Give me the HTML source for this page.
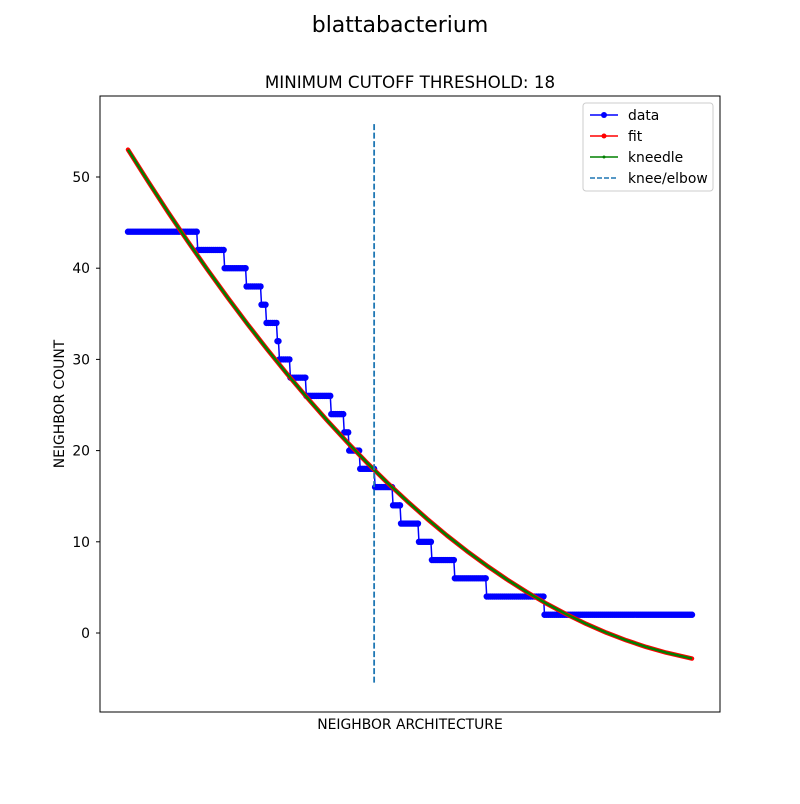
<!DOCTYPE html>
<html><head><meta charset="utf-8"><style>
body{margin:0;background:#fff;font-family:"DejaVu Sans",sans-serif}
</style></head><body>
<svg id="chart" width="800" height="800" viewBox="0 0 800 800" xmlns="http://www.w3.org/2000/svg" font-family="DejaVu Sans, sans-serif">
<rect width="800" height="800" fill="#fff"/>
<text x="400" y="32" text-anchor="middle" font-size="22">blattabacterium</text>
<text x="410" y="88" text-anchor="middle" font-size="16.7">MINIMUM CUTOFF THRESHOLD: 18</text>
<g id="plot"></g>
<rect x="100" y="96" width="620" height="616" fill="none" stroke="#000" stroke-width="1"/>
<text x="410" y="729" text-anchor="middle" font-size="13.9">NEIGHBOR ARCHITECTURE</text>
<text transform="translate(64,404) rotate(-90)" text-anchor="middle" font-size="13.9">NEIGHBOR COUNT</text>
<g id="yticks"></g>
<g>
<rect x="583" y="103" width="130" height="88" rx="3" fill="#fff" stroke="#ccc"/>
<g><line x1="590" y1="115" x2="618" y2="115" stroke="#00f" stroke-width="1.5"/><circle cx="604" cy="115" r="3" fill="#00f"/><text x="628" y="120" font-size="13.9">data</text></g>
<g><line x1="590" y1="136" x2="618" y2="136" stroke="#f00" stroke-width="1.5"/><circle cx="604" cy="136" r="2.5" fill="#f00"/><text x="628" y="141" font-size="13.9">fit</text></g>
<g><line x1="590" y1="157" x2="618" y2="157" stroke="#008000" stroke-width="1.5"/><circle cx="604" cy="157" r="1.5" fill="#008000"/><text x="628" y="162" font-size="13.9">kneedle</text></g>
<g><line x1="590" y1="178" x2="618" y2="178" stroke="#1f77b4" stroke-width="1.5" stroke-dasharray="5,2"/><text x="628" y="183" font-size="13.9">knee/elbow</text></g>
</g>
</svg>
<script>
const levels=[44,42,40,38,36,34,32,30,28,26,24,22,20,18,16,14,12,10,8,6,4,2];
const stepEnds=[69,96,118,133,138,149,151,162,178,203,216,221,232,247,265,273,291,304,327,359,417,566];
const fitX=[0,20,40,60,80,100,120,140,160,180,200,220,240,260,280,300,320,340,360,380,400,420,440,460,480,500,520,540,566];
const fitY=[53,49.54,46.18,42.94,39.80,36.78,33.86,31.06,28.36,25.77,23.29,20.92,18.65,16.50,14.47,12.53,10.70,8.99,7.39,5.89,4.50,3.22,2.06,0.99,0.04,-0.80,-1.53,-2.15,-2.80];
const kneeX=247;
const yTicks=[0,10,20,30,40,50];
const xMax=566;
const sx=v=>128+v*(564/xMax);
const sy=v=>633-v*9.12;
const NS="http://www.w3.org/2000/svg";
const plot=document.getElementById('plot');
function mk(t,a){const e=document.createElementNS(NS,t);for(const k in a)e.setAttribute(k,a[k]);return e;}
const yt=document.getElementById('yticks');
yTicks.forEach(v=>{
 const g=mk('g',{});
 
 
 g.appendChild(mk('line',{x1:96,x2:100,y1:sy(v),y2:sy(v),stroke:'#000'}));
 const t=mk('text',{x:90,y:sy(v)+5,'text-anchor':'end','font-size':13.9});t.textContent=v;g.appendChild(t);
 yt.appendChild(g);
});
let pts=[];let start=0;
levels.forEach((lv,i)=>{for(let x=start;x<=stepEnds[i];x+=2)pts.push([x,lv]);if(pts[pts.length-1][0]!==stepEnds[i])pts.push([stepEnds[i],lv]);start=stepEnds[i]+1;});
const dg=mk('g',{});


dg.appendChild(mk('path',{d:'M'+pts.map(p=>sx(p[0])+','+sy(p[1])).join('L'),fill:'none',stroke:'#00f','stroke-width':1.5}));
pts.forEach(p=>dg.appendChild(mk('circle',{cx:sx(p[0]),cy:sy(p[1]),r:3.2,fill:'#00f'})));
plot.appendChild(dg);
const fd='M'+fitX.map((x,i)=>sx(x)+','+sy(fitY[i])).join('L');
const fg=mk('path',{d:fd,fill:'none',stroke:'#f00','stroke-width':4.5,'stroke-linejoin':'round','stroke-linecap':'round'});


plot.appendChild(fg);
const kg=mk('path',{d:fd,fill:'none',stroke:'#008000','stroke-width':2.5,'stroke-linejoin':'round'});


plot.appendChild(kg);
const kl=mk('line',{x1:sx(kneeX),x2:sx(kneeX),y1:sy(55.8),y2:sy(-5.7),stroke:'#1f77b4','stroke-width':1.8,'stroke-dasharray':'6,2.5'});


plot.appendChild(kl);
</script>
</body></html>
